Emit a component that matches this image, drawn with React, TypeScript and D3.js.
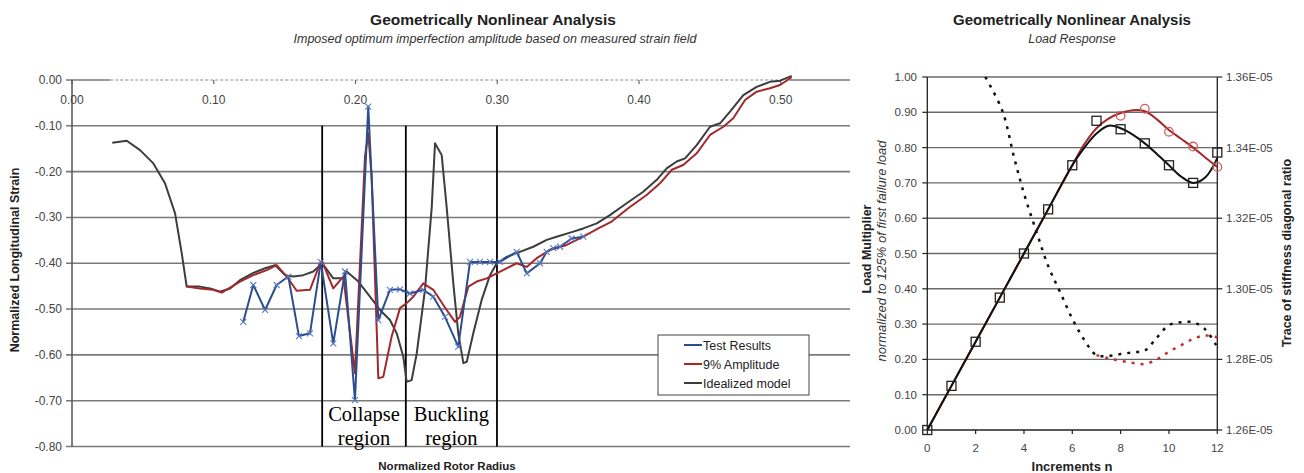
import React from "react";
import * as d3 from "d3";

// ---------- Left chart data (Normalized Rotor Radius vs Normalized Longitudinal Strain)
const idealX = [0.0284,0.0386,0.048,0.0574,0.0656,0.0727,0.0774,0.0809,0.0903,0.0974,0.1044,0.1115,0.1185,0.1279,0.1362,0.1432,0.1503,0.1561,0.1632,0.1702,0.1766,0.1843,0.1914,0.1938,0.202,0.2102,0.2173,0.2243,0.2291,0.2337,0.2361,0.2396,0.2432,0.249,0.2538,0.2561,0.2608,0.2643,0.269,0.2725,0.2761,0.2785,0.2831,0.289,0.2949,0.2996,0.3067,0.3137,0.3254,0.3349,0.3419,0.3537,0.3607,0.3702,0.3795,0.3913,0.403,0.4125,0.4195,0.4266,0.4325,0.4407,0.4501,0.4572,0.4642,0.4736,0.483,0.4924,0.4995,0.5077];
const idealY = [-0.137,-0.1325,-0.153,-0.182,-0.2255,-0.291,-0.378,-0.451,-0.451,-0.455,-0.462,-0.455,-0.437,-0.421,-0.411,-0.404,-0.426,-0.429,-0.426,-0.418,-0.400,-0.433,-0.433,-0.418,-0.440,-0.473,-0.502,-0.524,-0.553,-0.604,-0.659,-0.655,-0.597,-0.458,-0.277,-0.138,-0.164,-0.277,-0.444,-0.553,-0.618,-0.615,-0.553,-0.480,-0.426,-0.400,-0.386,-0.378,-0.364,-0.349,-0.342,-0.331,-0.324,-0.313,-0.295,-0.269,-0.244,-0.218,-0.193,-0.178,-0.171,-0.142,-0.102,-0.0945,-0.069,-0.033,-0.015,-0.004,-0.0015,0.009];

const ampX = [0.0809,0.0903,0.0997,0.1056,0.1127,0.1185,0.1279,0.1374,0.1444,0.1515,0.1585,0.1679,0.175,0.1766,0.1843,0.1914,0.1996,0.2067,0.209,0.2114,0.2161,0.2196,0.2255,0.2314,0.2361,0.2408,0.2478,0.2549,0.2643,0.2702,0.2737,0.2796,0.2855,0.2926,0.2996,0.3137,0.3208,0.3278,0.3372,0.349,0.3607,0.3713,0.3807,0.3924,0.4054,0.4148,0.4231,0.4312,0.4407,0.4501,0.4595,0.4665,0.4748,0.483,0.4924,0.4995,0.5077];
const ampY = [-0.451,-0.455,-0.458,-0.464,-0.451,-0.440,-0.426,-0.415,-0.404,-0.429,-0.460,-0.458,-0.400,-0.397,-0.455,-0.429,-0.640,-0.167,-0.116,-0.211,-0.651,-0.648,-0.560,-0.498,-0.487,-0.473,-0.444,-0.458,-0.502,-0.528,-0.517,-0.451,-0.440,-0.433,-0.422,-0.400,-0.408,-0.389,-0.371,-0.360,-0.342,-0.324,-0.309,-0.280,-0.251,-0.2255,-0.196,-0.1855,-0.160,-0.120,-0.102,-0.0836,-0.0437,-0.0255,-0.018,-0.011,0.006];

const testX = [0.1208,0.1279,0.1362,0.1444,0.1526,0.1601,0.1679,0.1755,0.1843,0.1926,0.1996,0.209,0.2161,0.2243,0.2314,0.2384,0.2478,0.2549,0.2631,0.2725,0.2808,0.2878,0.2949,0.3019,0.3137,0.3208,0.3302,0.3349,0.3395,0.3443,0.3525,0.3607];
const testY = [-0.528,-0.4475,-0.502,-0.4475,-0.429,-0.559,-0.553,-0.397,-0.575,-0.418,-0.699,-0.058,-0.524,-0.458,-0.457,-0.466,-0.458,-0.473,-0.517,-0.582,-0.397,-0.397,-0.397,-0.397,-0.375,-0.422,-0.400,-0.375,-0.367,-0.364,-0.346,-0.342];

const strainTicks = [0, -0.1, -0.2, -0.3, -0.4, -0.5, -0.6, -0.7, -0.8];
const radiusTicks = [0, 0.1, 0.2, 0.3, 0.4, 0.5];
const regionBounds = [0.1765, 0.2355, 0.2998];
const regionLabels = [["Collapse", "region"], ["Buckling", "region"]];
const legendNames = ["Test Results", "9% Amplitude", "Idealized model"];

// ---------- Right chart data (Load response)
const incrementsN = [0,1,2,3,4,5,6,7,8,9,10,11,12];
const loadSquares = [0,0.125,0.25,0.375,0.5,0.625,0.75,0.876,0.852,0.812,0.75,0.70,0.786];
const fitN = [0,1,2,3,4,5,6,6.5,7,7.5,8,8.5,9,9.5,10,10.5,11,11.5,12];
const idealFit = [0,0.125,0.25,0.375,0.5,0.625,0.75,0.80,0.84,0.862,0.855,0.837,0.812,0.782,0.75,0.718,0.70,0.715,0.77];
const ampFit = [0,0.125,0.25,0.375,0.5,0.625,0.75,0.81,0.855,0.882,0.898,0.906,0.903,0.88,0.85,0.825,0.80,0.772,0.745];
const ampCircleN = [8,9,10,11,12];
const ampCircles = [0.89,0.91,0.845,0.803,0.745];
const traceIdealN = [2.4,3.1,3.6,4.0,4.5,5.0,5.5,6.0,6.5,7.0,7.5,8.0,8.5,9.0,9.5,10.0,10.5,11.0,11.5,12.0];
const traceIdeal = [1.36,1.3505,1.337,1.327,1.3165,1.3065,1.299,1.2915,1.2855,1.2812,1.281,1.2815,1.282,1.2825,1.2862,1.2897,1.2905,1.2905,1.2885,1.2835];
const traceAmpN = [7.0,7.5,8.0,8.5,9.0,9.5,10.0,10.5,11.0,11.5,12.0];
const traceAmp = [1.2812,1.2803,1.2796,1.279,1.2787,1.28,1.2822,1.284,1.2858,1.2868,1.2862];
const loadTicks = [0,0.1,0.2,0.3,0.4,0.5,0.6,0.7,0.8,0.9,1.0];
const traceTicks = [1.26,1.28,1.30,1.32,1.34,1.36];
const incTicks = [0,2,4,6,8,10,12];

const FONT = "Arial, 'Liberation Sans', sans-serif";
const BLUE = "#2a4f8c";
const BLUE_M = "#5b79c6";
const RED = "#a3282b";
const GRAY = "#3d3d3d";

function zip(xs: number[], ys: number[]): [number, number][] {
  return xs.map((x, i) => [x, ys[i]] as [number, number]);
}

export default function App() {
  // left chart scales
  const xL = d3.scaleLinear().domain([0, 0.5]).range([72, 780.75]);
  const yL = d3.scaleLinear().domain([-0.8, 0]).range([446.5, 80]);
  const lineL = d3.line<[number, number]>().x(d => xL(d[0])).y(d => yL(d[1]));
  const gridRight = 850;

  // right chart scales
  const xR = d3.scaleLinear().domain([0, 12]).range([927.3, 1217.3]);
  const yR = d3.scaleLinear().domain([0, 1]).range([430, 77]);
  const yR2 = d3.scaleLinear().domain([1.26, 1.36]).range([430, 77]);
  const smoothR = d3.line<[number, number]>().x(d => xR(d[0])).y(d => yR(d[1])).curve(d3.curveCatmullRom);
  const smoothR2 = d3.line<[number, number]>().x(d => xR(d[0])).y(d => yR2(d[1])).curve(d3.curveCatmullRom);

  const testPts = zip(testX, testY);

  return (
    <svg width={1304} height={473} style={{ position: "absolute", left: 0, top: 0, background: "#fff" }} fontFamily={FONT}>
      <rect x={0} y={0} width={1304} height={473} fill="#fff" />
      {/* ================= LEFT CHART ================= */}
      <text x={493} y={25} textAnchor="middle" fontSize={15.5} fontWeight="bold" fill="#222">Geometrically Nonlinear Analysis</text>
      <text x={495} y={43} textAnchor="middle" fontSize={12.5} fontStyle="italic" fill="#333">Imposed optimum imperfection amplitude based on measured strain field</text>

      {/* gridlines */}
      {strainTicks.filter(t => t !== 0).map(t => (
        <line key={"g" + t} x1={66} x2={gridRight} y1={yL(t)} y2={yL(t)} stroke="#7a7a7a" strokeWidth={1.6} />
      ))}
      {/* zero line */}
      <line x1={66} x2={xL(0.027)} y1={yL(0)} y2={yL(0)} stroke="#7a7a7a" strokeWidth={1.6} />
      <line x1={xL(0.027)} x2={xL(0.506)} y1={yL(0)} y2={yL(0)} stroke="#8a8a8a" strokeWidth={1.2} strokeDasharray="3 2" />
      <line x1={xL(0.506)} x2={gridRight} y1={yL(0)} y2={yL(0)} stroke="#7a7a7a" strokeWidth={1.6} />
      {radiusTicks.map(t => (
        <line key={"xt" + t} x1={xL(t)} x2={xL(t)} y1={yL(0)} y2={yL(0) + 4} stroke="#666" strokeWidth={1.2} />
      ))}
      {/* y axis */}
      <line x1={72} x2={72} y1={yL(0)} y2={yL(-0.8)} stroke="#555" strokeWidth={1.5} />
      {strainTicks.map(t => (
        <text key={"yl" + t} x={62} y={yL(t) + 4} textAnchor="end" fontSize={12} fill="#444">{t.toFixed(2)}</text>
      ))}
      {radiusTicks.map(t => (
        <text key={"xl" + t} x={xL(t)} y={104} textAnchor="middle" fontSize={12} fill="#444">{t.toFixed(2)}</text>
      ))}
      <text transform={`translate(19,260) rotate(-90)`} textAnchor="middle" fontSize={12.5} fontWeight="bold" fill="#222">Normalized Longitudinal Strain</text>
      <text x={447} y={470} textAnchor="middle" fontSize={11.5} fontWeight="bold" fill="#222">Normalized Rotor Radius</text>

      {/* region lines */}
      {regionBounds.map(b => (
        <line key={"rb" + b} x1={xL(b)} x2={xL(b)} y1={yL(-0.1)} y2={yL(-0.8)} stroke="#000" strokeWidth={1.8} />
      ))}

      {/* series */}
      <path d={lineL(zip(idealX, idealY)) || ""} fill="none" stroke={GRAY} strokeWidth={2} strokeLinejoin="round" />
      <path d={lineL(zip(ampX, ampY)) || ""} fill="none" stroke={RED} strokeWidth={2} strokeLinejoin="round" />
      <path d={lineL(testPts) || ""} fill="none" stroke={BLUE} strokeWidth={2} strokeLinejoin="round" />
      {testPts.map((p, i) => {
        const cx = xL(p[0]), cy = yL(p[1]), s = 3;
        return (
          <g key={"m" + i} stroke={BLUE_M} strokeWidth={1.1}>
            <line x1={cx - s} y1={cy - s} x2={cx + s} y2={cy + s} />
            <line x1={cx - s} y1={cy + s} x2={cx + s} y2={cy - s} />
          </g>
        );
      })}

      {/* region labels */}
      {regionLabels.map((lab, i) => {
        const cx = (xL(regionBounds[i]) + xL(regionBounds[i + 1])) / 2;
        return (
          <g key={"rl" + i} fontFamily="'Liberation Serif', 'Times New Roman', serif" fontSize={20.5} fill="#000" textAnchor="middle">
            <text x={cx} y={421}>{lab[0]}</text>
            <text x={cx} y={445}>{lab[1]}</text>
          </g>
        );
      })}

      {/* legend */}
      <rect x={658} y={335} width={151} height={60} fill="#fff" stroke="#444" strokeWidth={1} />
      {legendNames.map((n, i) => (
        <g key={"lg" + i}>
          <line x1={684} x2={702} y1={345 + i * 19} y2={345 + i * 19} stroke={[BLUE, RED, GRAY][i]} strokeWidth={2} />
          <text x={703} y={349.5 + i * 19} fontSize={12.5} fill="#222">{n}</text>
        </g>
      ))}

      {/* ================= RIGHT CHART ================= */}
      <text x={1072} y={25} textAnchor="middle" fontSize={15} fontWeight="bold" fill="#222">Geometrically Nonlinear Analysis</text>
      <text x={1072} y={43} textAnchor="middle" fontSize={12.5} fontStyle="italic" fill="#333">Load Response</text>

      {loadTicks.filter(t => t > 0).map(t => (
        <line key={"rg" + t} x1={xR(0)} x2={xR(12)} y1={yR(t)} y2={yR(t)} stroke="#6a6a6a" strokeWidth={1.4} />
      ))}
      {/* axes */}
      <line x1={xR(0)} x2={xR(0)} y1={yR(1)} y2={yR(0)} stroke="#222" strokeWidth={1.3} />
      <line x1={xR(12)} x2={xR(12)} y1={yR(1)} y2={yR(0)} stroke="#222" strokeWidth={1.3} />
      <line x1={xR(0)} x2={xR(12)} y1={yR(0)} y2={yR(0)} stroke="#222" strokeWidth={1.3} />
      {loadTicks.map(t => (
        <g key={"lt" + t}>
          <line x1={xR(0) - 5} x2={xR(0)} y1={yR(t)} y2={yR(t)} stroke="#222" strokeWidth={1.2} />
          <text x={917} y={yR(t) + 4} textAnchor="end" fontSize={11.5} fill="#444">{t.toFixed(2)}</text>
        </g>
      ))}
      {traceTicks.map(t => (
        <g key={"tt" + t}>
          <line x1={xR(12)} x2={xR(12) + 5} y1={yR2(t)} y2={yR2(t)} stroke="#222" strokeWidth={1.2} />
          <text x={1226} y={yR2(t) + 4} textAnchor="start" fontSize={11.5} fill="#444">{t.toFixed(2) + "E-05"}</text>
        </g>
      ))}
      {incTicks.map(t => (
        <g key={"it" + t}>
          <line x1={xR(t)} x2={xR(t)} y1={yR(0)} y2={yR(0) + 4} stroke="#222" strokeWidth={1.2} />
          <text x={xR(t)} y={452} textAnchor="middle" fontSize={11.5} fill="#444">{t}</text>
        </g>
      ))}
      <text x={1072} y={471} textAnchor="middle" fontSize={13} fontWeight="bold" fill="#222">Increments n</text>
      <text transform="translate(871,249) rotate(-90)" textAnchor="middle" fontSize={12.5} fontWeight="bold" fill="#222">Load Multiplier</text>
      <text transform="translate(886,251) rotate(-90)" textAnchor="middle" fontSize={13} fontStyle="italic" fill="#333">normalized to 125% of first failure load</text>
      <text transform="translate(1291,253) rotate(-90)" textAnchor="middle" fontSize={12.5} fontWeight="bold" fill="#222">Trace of stiffness diagonal ratio</text>

      {/* dotted trace curves */}
      <path d={smoothR2(zip(traceIdealN, traceIdeal)) || ""} fill="none" stroke="#111" strokeWidth={2.5} strokeDasharray="3 6" />
      <path d={smoothR2(zip(traceAmpN, traceAmp)) || ""} fill="none" stroke="#c0302e" strokeWidth={2.5} strokeDasharray="3 6" />

      {/* load curves */}
      <path d={smoothR(zip(fitN, ampFit)) || ""} fill="none" stroke={RED} strokeWidth={2} />
      <path d={smoothR(zip(fitN, idealFit)) || ""} fill="none" stroke="#111" strokeWidth={2} />
      {incrementsN.map((n, i) => (
        <rect key={"sq" + i} x={xR(n) - 4.5} y={yR(loadSquares[i]) - 4.5} width={9} height={9} fill="none" stroke="#222" strokeWidth={1.3} />
      ))}
      {ampCircleN.map((n, i) => (
        <circle key={"ci" + i} cx={xR(n)} cy={yR(ampCircles[i])} r={4.3} fill="none" stroke="#d0605c" strokeWidth={1.3} />
      ))}
    </svg>
  );
}
